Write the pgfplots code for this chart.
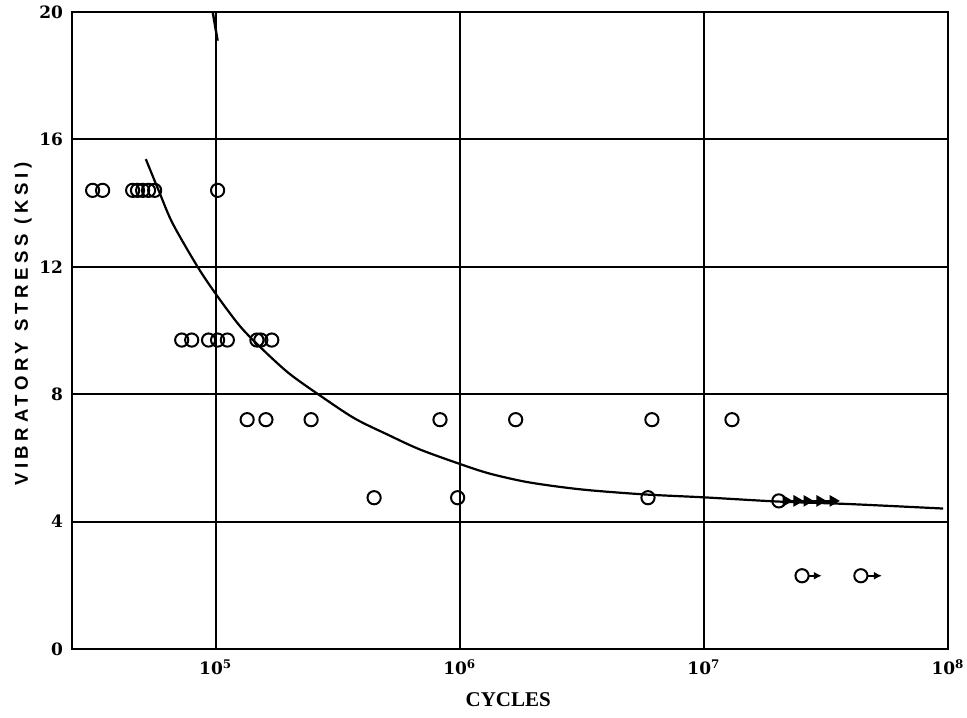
\documentclass[border=0pt]{standalone}
\usepackage{pgfplots}
\pgfplotsset{compat=1.18}
\usepackage{fontspec}
\setmainfont{Liberation Serif}
\setsansfont{Liberation Sans}
\newfontfamily\tickfont{DejaVu Serif}
\newfontfamily\ylabfont[LetterSpace=25]{Liberation Sans}
\usetikzlibrary{arrows.meta}
\begin{document}
\begin{tikzpicture}
\begin{axis}[
 at={(0,0)}, anchor=south west,
 scale only axis, width=438pt, height=318.5pt,
 xmode=log, xmin=25800, xmax=1e8, ymin=0, ymax=20,
 xtick={1e5,1e6,1e7,1e8},
 xticklabels={10\textsuperscript{5},10\textsuperscript{6},10\textsuperscript{7},10\textsuperscript{8}},
 ytick={0,4,8,12,16,20}, yticklabels={0,4,8,12,16,20},
 xminorticks=false,
 grid=major, major grid style={black, line width=0.9pt},
 axis line style={line width=1.2pt},
 major tick length=0pt,
 tick label style={font=\tickfont\bfseries\fontsize{8.5}{10}\selectfont},
 yticklabel style={xshift=-1pt},
 xticklabel style={yshift=-2pt},
 xlabel={CYCLES},
 xlabel style={at={(axis description cs:0.498,0)}, anchor=center, yshift=-25.5pt, font=\bfseries\fontsize{10.5}{12}\selectfont},
 ylabel={VIBRATORY STRESS (KSI)},
 ylabel style={at={(axis description cs:-0.056,0.51)}, anchor=center, font=\ylabfont\bfseries\fontsize{9.3}{11}\selectfont},
 clip=false,
]
% fitted curve
\addplot[smooth, black, line width=1.1pt, no marks] coordinates {
 (51761,15.38) (58884,14.33) (66681,13.36) (84333,12.0) (100925,11.11)
 (125026,10.16) (150314,9.52) (198609,8.67) (269774,7.94) (370681,7.24)
 (503501,6.74) (683912,6.27) (1009253,5.80) (1321300,5.51) (1832314,5.26)
 (2511886,5.10) (3451437,4.98) (5794286,4.85) (10092529,4.76)
 (20090000,4.63) (39600000,4.55) (95499000,4.41)
};
% stray stroke at top
\addplot[black, line width=1.2pt, no marks] coordinates {(97270,20) (101860,19.1)};
% test points
\addplot[only marks, mark=o, mark size=3.3pt, mark options={line width=1pt, black}] coordinates {
 (31333,14.4) (34435,14.4) (45709,14.4) (47863,14.4) (50234,14.4) (53088,14.4) (56234,14.4) (101859,14.4)
 (72611,9.7) (79799,9.7) (93541,9.7) (101859,9.7) (111686,9.7) (147571,9.7) (153109,9.7) (169824,9.7)
 (134586,7.2) (160694,7.2) (246037,7.2) (829851,7.2) (1694338,7.2) (6123600,7.2) (13031670,7.2)
 (445656,4.75) (980000,4.75) (5902000,4.75) (20277000,4.65)
 (25235000,2.3) (43954000,2.3)
};
% run-out arrows
\addplot[black, line width=1pt, mark=triangle*, mark size=2.4pt, mark options={rotate=-90, black}] coordinates {
 (21700000,4.65) (24040000,4.65) (26420000,4.65) (29850000,4.65) (33810000,4.65)
};
\addplot[black, line width=1pt, -{Latex[length=4pt,width=4pt]}] coordinates {(26900000,2.3) (30400000,2.3)};
\addplot[black, line width=1pt, -{Latex[length=4pt,width=4pt]}] coordinates {(47000000,2.3) (53600000,2.3)};
\end{axis}
\pgfresetboundingbox
\path[use as bounding box] (-36pt,-34pt) rectangle (447.5pt,324.5pt);
\end{tikzpicture}
\end{document}
